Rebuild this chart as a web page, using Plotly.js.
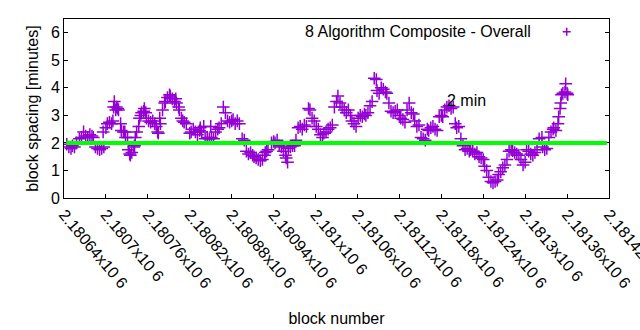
<!DOCTYPE html>
<html>
<head>
<meta charset="utf-8">
<script src="https://cdn.plot.ly/plotly-3.0.1.min.js"></script>
<style>html,body{margin:0;padding:0;background:#fff;}#chart{width:640px;height:330px;}</style>
</head>
<body>
<div id="chart"></div>
<script>
// ---- data ----
const blockBase = 2180640;
const blockOffsets = [
  4,7,10,12,15,18,22,25,28,31,34,37,40,42,45,48,51,54,56,57,60,62,65,68,70,71,72,74,75,77,78,
  81,82,85,87,88,91,92,94,95,97,100,101,102,104,107,108,110,111,114,115,117,118,121,124,127,130,
  132,134,135,137,138,141,144,145,148,151,152,155,158,160,161,164,165,168,170,172,175,180,182,
  185,188,191,194,195,197,200,202,205,208,210,211,214,217,220,222,225,228,231,234,237,240,242,
  245,248,251,255,258,261,264,267,270,272,275,278,281,284,287,288,290,292,297,300,302,305,308,
  311,314,317,318,320,321,324,327,330,332,335,338,341,344,347,350,352,355,358,361,364,367,370,
  372,375,378,381,384,387,390,392,395,398,401,404,407,410,412,415,418,421,424,427,430,432,435,
  438,441,444,447,448,451,454,457,460,462,465,468,471,474,477,480,482,485,488,491,494,497,500,
  502,505,508,511,514,517,520,522,525,528,531,534,537,540,542,545,548,551,554,557,560,562,565,
  568,571,574,577,580,582,585,588,591,594,597,600,602,605,608,611,614,617,620,622,625,628,631,
  634,637,640,642,645,648,651,654,657,660,662,665,668,671,674,677,680,684,685,688,691,694,697,
  700,701,704,707,708,710,711,712,714,717,718,720,721,724
];
const spacingMinutes = [
  1.95,1.85,1.8,1.9,1.85,2.0,2.15,2.2,2.4,2.25,2.2,2.3,2.25,2.2,1.85,1.8,1.75,1.8,2.4,1.85,2.55,2.7,2.75,2.7,2.8,3.3,3.5,3.2,3.3,3.25,3.2,
  2.7,2.45,2.4,2.4,2.2,2.2,1.75,1.6,1.55,1.65,1.85,1.9,2.2,2.4,2.6,2.9,3.0,3.1,3.15,3.25,3.1,2.9,2.8,2.75,2.8,2.7,
  2.6,2.4,2.35,2.9,2.7,3.2,3.45,3.5,3.65,3.75,3.7,3.6,3.5,3.6,3.45,3.3,3.2,2.9,2.8,2.75,2.7,2.35,2.4,
  2.5,2.4,2.3,2.45,2.55,2.4,2.6,2.15,2.2,2.15,2.6,2.2,2.15,2.4,2.5,2.55,2.7,3.3,3.1,2.8,2.75,2.8,2.85,
  2.7,2.8,2.7,2.15,2.1,1.7,1.6,1.65,1.55,1.5,1.45,1.4,1.35,1.4,1.55,1.65,1.7,1.75,2.0,2.05,2.0,2.1,1.9,
  1.85,1.7,1.55,1.45,1.3,1.8,1.85,1.9,1.9,2.1,2.55,2.6,2.5,2.65,2.6,3.25,3.2,2.9,2.8,2.6,2.5,2.3,
  2.2,2.35,2.4,2.5,2.55,2.65,3.3,3.5,3.7,3.45,3.3,3.2,3.1,3.2,3.0,2.8,2.7,2.6,2.9,3.0,2.95,3.05,3.0,
  3.1,3.35,3.5,4.35,4.3,3.9,3.8,4.0,3.95,3.85,3.8,3.45,3.15,3.1,3.15,3.2,3.0,2.9,2.85,2.75,3.2,3.45,
  3.1,3.05,2.8,2.6,2.65,2.2,2.15,2.1,2.5,2.45,2.55,2.6,2.5,2.45,2.95,3.0,2.95,3.2,3.3,3.35,3.25,3.3,
  2.7,2.55,2.6,2.15,1.9,1.75,1.8,1.7,1.75,1.7,1.6,1.65,1.5,1.45,1.4,1.15,1.0,0.75,0.6,0.55,0.6,0.65,
  0.85,0.95,1.1,1.2,1.4,1.7,1.75,1.72,1.65,1.6,1.55,1.4,1.2,1.3,1.75,1.7,1.6,1.55,1.65,1.75,2.15,2.2,
  1.85,1.75,1.8,2.2,2.4,2.5,2.55,2.45,2.7,2.95,3.25,3.45,3.75,3.8,3.85,4.15,3.8,3.75
];
const blocks = blockOffsets.map(o => blockBase + o);

const tickBlocks = [2180640,2180700,2180760,2180820,2180880,2180940,2181000,2181060,2181120,2181180,2181240,2181300,2181360,2181420];
const tickLabels = ["2.18064x10 6","2.1807x10 6","2.18076x10 6","2.18082x10 6","2.18088x10 6","2.18094x10 6","2.181x10 6",
  "2.18106x10 6","2.18112x10 6","2.18118x10 6","2.18124x10 6","2.1813x10 6","2.18136x10 6","2.18142x10 6"];
const yTicks = [0,1,2,3,4,5,6];
const thresholdMinutes = 2;
const seriesName = "8 Algorithm Composite - Overall";
const thresholdLabel = "2 min";
const thresholdLabelPos = {x: 2181185, y: 3.53};

const FONT = "Liberation Sans, Arial, sans-serif";
const purple = "#9400d3";

const trace = {
  type: "scatter", mode: "markers", x: blocks, y: spacingMinutes, name: seriesName,
  marker: {symbol: "cross-thin-open", size: 9, color: purple, line: {color: purple, width: 1.5}},
  showlegend: false, hoverinfo: "x+y"
};

const layout = {
  width: 640, height: 330,
  margin: {l: 64, r: 31, t: 19, b: 132},
  paper_bgcolor: "#fff", plot_bgcolor: "#fff",
  font: {family: FONT, size: 16, color: "#000"},
  showlegend: false,
  xaxis: {
    range: [2180640, 2181420], tickmode: "array", tickvals: tickBlocks, ticktext: tickLabels,
    tickangle: 50, ticks: "inside", ticklen: 4, tickcolor: "#000", tickwidth: 1,
    ticklabeloverflow: "allow",
    showline: true, linecolor: "#000", linewidth: 1, mirror: true, showgrid: false, zeroline: false,
    tickfont: {family: FONT, size: 16, color: "#000"},
    title: {text: "block number", font: {family: FONT, size: 16, color: "#000"}, standoff: 22},
    automargin: false
  },
  yaxis: {
    range: [0, 6.5], tickmode: "array", tickvals: yTicks, ticktext: yTicks.map(String),
    ticks: "inside", ticklen: 4, tickcolor: "#000", tickwidth: 1,
    showline: true, linecolor: "#000", linewidth: 1, mirror: "ticks", showgrid: false, zeroline: false,
    tickfont: {family: FONT, size: 16, color: "#000"},
    title: {text: "block spacing [minutes]", font: {family: FONT, size: 16, color: "#000"}, standoff: 8},
    automargin: false
  },
  shapes: [
    {type: "line", xref: "paper", yref: "y", x0: 0.004, x1: 0.996, y0: thresholdMinutes, y1: thresholdMinutes,
     line: {color: "#00ff00", width: 4}, layer: "above"},
    {type: "path", xref: "paper", yref: "paper", xsizemode: "pixel", ysizemode: "pixel",
     xanchor: 0.9224, yanchor: 0.9289, path: "M-4,0 L4,0 M0,-4 L0,4",
     line: {color: purple, width: 1.5}}
  ],
  annotations: [
    {xref: "paper", yref: "paper", x: 0.860, y: 0.9289, xanchor: "right", yanchor: "middle",
     text: seriesName, showarrow: false, font: {family: FONT, size: 16, color: "#000"}},
    {xref: "x", yref: "y", x: thresholdLabelPos.x, y: thresholdLabelPos.y, xanchor: "left", yanchor: "middle",
     text: thresholdLabel, showarrow: false, font: {family: FONT, size: 16, color: "#000"}}
  ]
};

Plotly.newPlot("chart", [trace], layout, {staticPlot: true, displayModeBar: false});
</script>
</body>
</html>
